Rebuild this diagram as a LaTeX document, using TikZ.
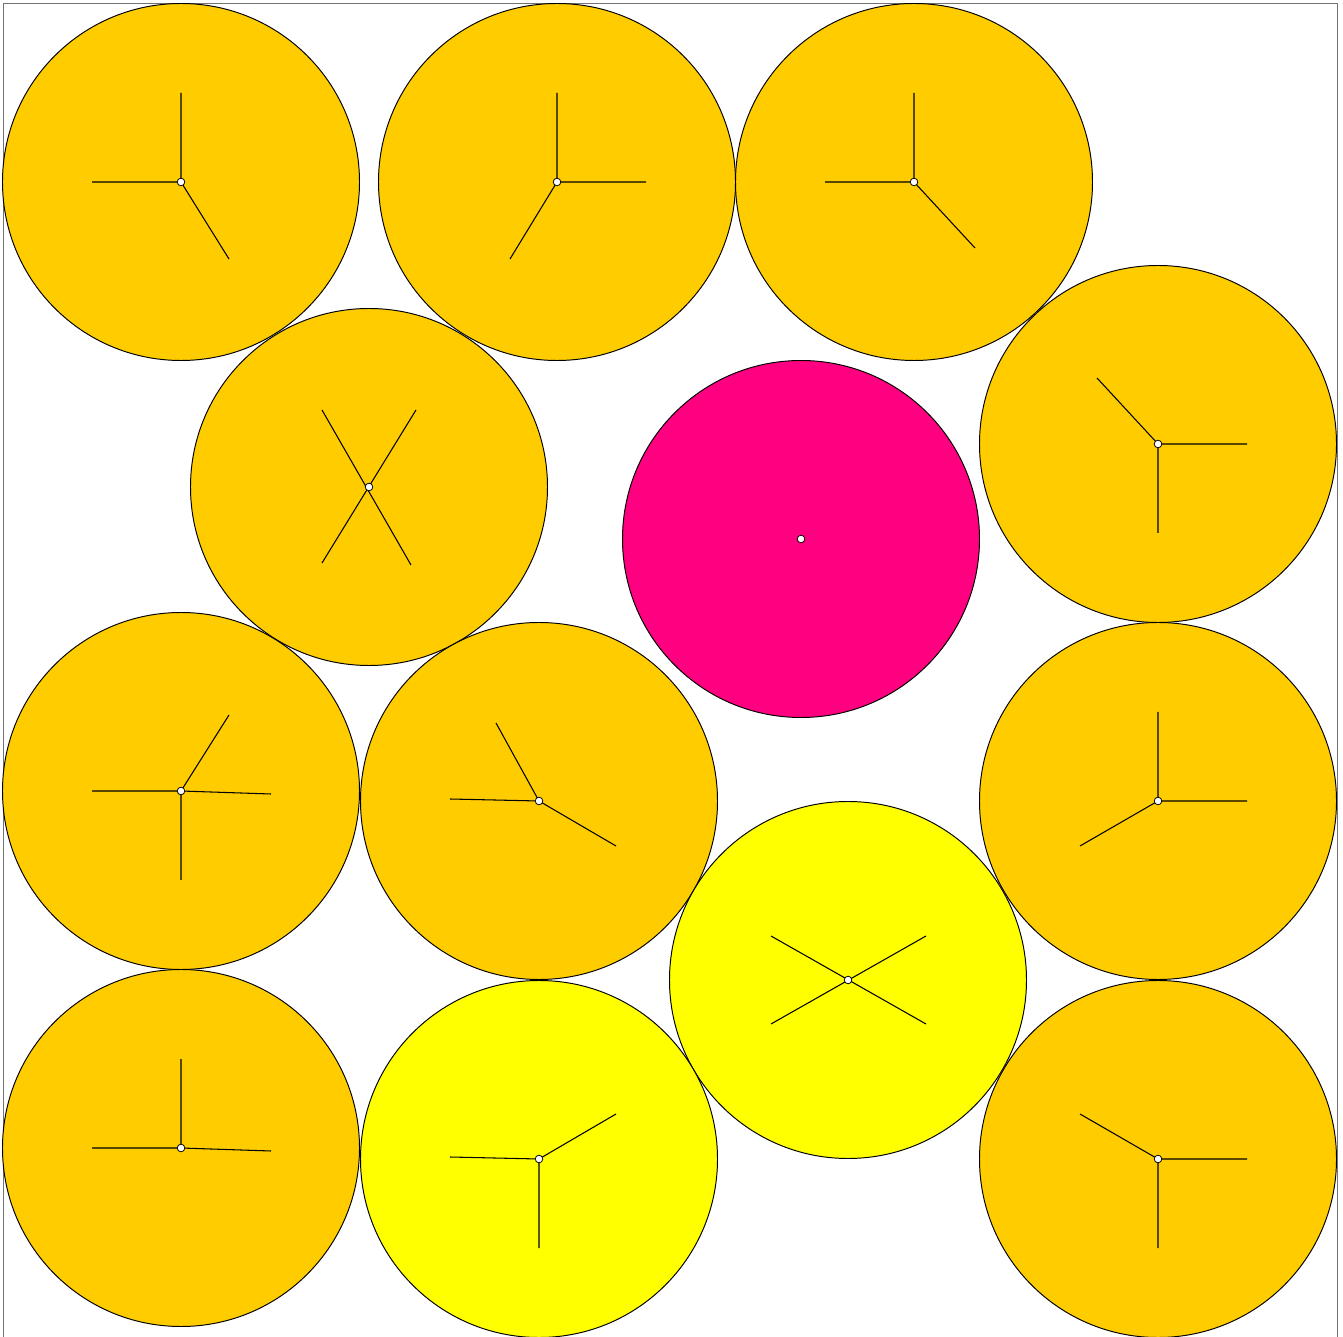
\documentclass[tikz,border=0pt]{standalone}
\definecolor{orng}{HTML}{FFCC00}
\definecolor{mag}{HTML}{FF0080}
\definecolor{yel}{HTML}{FFFF00}
\begin{document}
\begin{tikzpicture}[x=0.02cm,y=-0.02cm,
  disc/.style={draw=black,line width=0.55pt},
  spoke/.style={draw=black,line width=0.6pt},
  hub/.style={draw=black,fill=white,line width=0.45pt}]
\useasboundingbox (0,0) rectangle (1343,1337);
\draw[draw=black!55,line width=0.8pt] (3.5,1340) -- (3.5,3.5) -- (1337.5,3.5) -- (1337.5,1340);
\def\R{178.5}
% circles
\foreach \cx/\cy/\col in {181/182/orng,557/182/orng,914/182/orng,369/487/orng,801/539/mag,1158/444/orng,181/791/orng,539/801/orng,1158/801/orng,848/980/yel,181/1148/orng,539/1159/yel,1158/1159/orng}{
  \fill[\col] (\cx,\cy) circle[radius=\R];
  \draw[disc] (\cx,\cy) circle[radius=\R];
}
% spokes
\draw[spoke] (181,93)--(181,182)--(92,182) (181,182)--(229,259);
\draw[spoke] (557,93)--(557,182)--(646,182) (557,182)--(510,259);
\draw[spoke] (914,93)--(914,182)--(825,182) (914,182)--(975,248);
\draw[spoke] (322,410)--(411,565) (416,410)--(322,563);
\draw[spoke] (1097,378)--(1158,444)--(1247,444) (1158,444)--(1158,533);
\draw[spoke] (229,715)--(181,791)--(92,791) (181,791)--(271,794) (181,791)--(181,880);
\draw[spoke] (496,723)--(539,801)--(450,799) (539,801)--(616,846);
\draw[spoke] (1158,712)--(1158,801)--(1247,801) (1158,801)--(1080,846);
\draw[spoke] (771,936)--(926,1024) (926,936)--(771,1024);
\draw[spoke] (181,1059)--(181,1148)--(92,1148) (181,1148)--(271,1151);
\draw[spoke] (450,1157)--(539,1159)--(616,1114) (539,1159)--(539,1248);
\draw[spoke] (1080,1114)--(1158,1159)--(1247,1159) (1158,1159)--(1158,1248);
% hubs
\foreach \cx/\cy in {181/182,557/182,914/182,369/487,801/539,1158/444,181/791,539/801,1158/801,848/980,181/1148,539/1159,1158/1159}{
  \draw[hub] (\cx,\cy) circle[radius=3.8];
}
\end{tikzpicture}
\end{document}
